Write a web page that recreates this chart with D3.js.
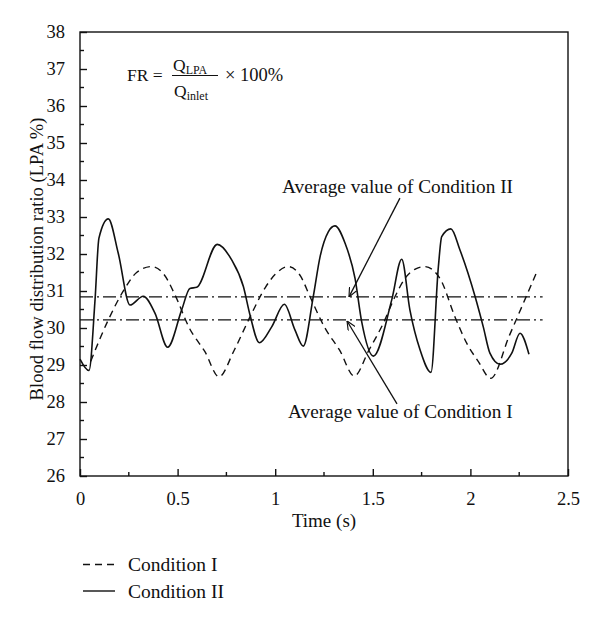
<!DOCTYPE html>
<html><head><meta charset="utf-8">
<script src="https://cdn.jsdelivr.net/npm/d3@7"></script>
<style>
body{margin:0;background:#fff;}
svg{display:block;}
text{font-family:"Liberation Serif","Times New Roman",serif;fill:#111;}
</style>
</head><body>
<svg id="c" width="600" height="624"></svg>
<script>
// ---- data ----
const xTickValues = [0, 0.5, 1, 1.5, 2, 2.5];
const xTickLabels = ["0", "0.5", "1", "1.5", "2", "2.5"];
const yTickValues = [26, 27, 28, 29, 30, 31, 32, 33, 34, 35, 36, 37, 38];

const cond1Time = [0.055, 0.145, 0.23, 0.29, 0.367, 0.43, 0.487, 0.56, 0.64, 0.712, 0.79, 0.871, 0.95, 1.0, 1.067, 1.13, 1.178, 1.255, 1.33, 1.405, 1.48, 1.554, 1.614, 1.665, 1.72, 1.767, 1.844, 1.921, 1.981, 2.04, 2.104, 2.2, 2.343];
const cond1Value = [29.1, 30.22, 31.07, 31.5, 31.66, 31.45, 30.89, 30.0, 29.36, 28.68, 29.4, 30.3, 31.1, 31.45, 31.66, 31.4, 30.85, 30.0, 29.4, 28.7, 29.4, 30.13, 30.85, 31.34, 31.6, 31.66, 31.34, 30.3, 29.59, 29.1, 28.64, 29.8, 31.55];

const cond2Time = [0, 0.046, 0.077, 0.097, 0.145, 0.196, 0.256, 0.324, 0.384, 0.449, 0.521, 0.563, 0.598, 0.703, 0.777, 0.837, 0.871, 0.919, 0.982, 1.047, 1.101, 1.144, 1.195, 1.23, 1.272, 1.306, 1.358, 1.409, 1.443, 1.503, 1.597, 1.648, 1.69, 1.742, 1.798, 1.836, 1.853, 1.9, 1.947, 2.024, 2.066, 2.1, 2.152, 2.212, 2.254, 2.3];
const cond2Value = [29.16, 28.85, 30.76, 32.43, 32.95, 32.02, 30.62, 30.86, 30.4, 29.48, 30.49, 31.07, 31.1, 32.26, 31.84, 31.12, 30.35, 29.6, 30.03, 30.64, 29.95, 29.51, 30.85, 31.93, 32.6, 32.76, 32.29, 31.34, 30.17, 29.24, 30.76, 31.86, 30.49, 29.41, 28.8, 31.66, 32.47, 32.68, 32.1, 30.85, 30.03, 29.32, 29.02, 29.32, 29.86, 29.29];

const avgCond1 = 30.22;
const avgCond2 = 30.84;
const avgExtent = [0, 2.37];

const seriesNames = ["Condition I", "Condition II"];
const annotationTexts = ["Average value of Condition II", "Average value of Condition I"];

// ---- layout ----
const svg = d3.select("#c");
const L = 80, R = 568, T = 32, B = 476;
const x = d3.scaleLinear().domain([0, 2.5]).range([L, R]);
const y = d3.scaleLinear().domain([26, 38]).range([B, T]);

const lineW = 1.4;

// frame
svg.append("rect").attr("x", L).attr("y", T).attr("width", R - L).attr("height", B - T)
  .attr("fill", "none").attr("stroke", "#111").attr("stroke-width", lineW);

// y axis (ticks inward)
const yMinor = d3.range(26.5, 38, 1);
const yAxis = d3.axisLeft(y).tickValues(yTickValues).tickSize(-7).tickPadding(15).tickFormat(d3.format("d"));
const gy = svg.append("g").attr("transform", `translate(${L},0)`).call(yAxis);
gy.select(".domain").remove();
gy.selectAll(".tick line").attr("stroke", "#111").attr("stroke-width", lineW);
gy.selectAll(".tick text").attr("font-size", 18.5).attr("font-family", "Liberation Serif").attr("fill", "#111");
svg.append("g").selectAll("line").data(yMinor).join("line")
  .attr("x1", L).attr("x2", L + 4).attr("y1", d => y(d)).attr("y2", d => y(d))
  .attr("stroke", "#111").attr("stroke-width", lineW);

// x axis (ticks inward)
const xMinor = [0.25, 0.75, 1.25, 1.75, 2.25];
const xAxis = d3.axisBottom(x).tickValues(xTickValues).tickSize(-7).tickPadding(16)
  .tickFormat((d, i) => xTickLabels[i]);
const gx = svg.append("g").attr("transform", `translate(0,${B})`).call(xAxis);
gx.select(".domain").remove();
gx.selectAll(".tick line").attr("stroke", "#111").attr("stroke-width", lineW);
gx.selectAll(".tick text").attr("font-size", 18.5).attr("font-family", "Liberation Serif").attr("fill", "#111");
svg.append("g").selectAll("line").data(xMinor).join("line")
  .attr("x1", d => x(d)).attr("x2", d => x(d)).attr("y1", B).attr("y2", B - 4)
  .attr("stroke", "#111").attr("stroke-width", lineW);

// axis titles
svg.append("text").attr("x", (L + R) / 2).attr("y", 527).attr("text-anchor", "middle")
  .attr("font-size", 19).text("Time (s)");
svg.append("text").attr("transform", `translate(43,${(T + B) / 2 + 5}) rotate(-90)`)
  .attr("text-anchor", "middle").attr("font-size", 18.6)
  .text("Blood flow distribution ratio (LPA %)");

// average lines
const avgDash = "13,4,2,4";
[avgCond2, avgCond1].forEach(v => {
  svg.append("line").attr("x1", x(avgExtent[0])).attr("x2", x(avgExtent[1]))
    .attr("y1", y(v)).attr("y2", y(v))
    .attr("stroke", "#111").attr("stroke-width", 1.3).attr("stroke-dasharray", avgDash);
});

// curves
const lineGen = d3.line().x(d => x(d[0])).y(d => y(d[1])).curve(d3.curveMonotoneX);
const c1 = cond1Time.map((t, i) => [t, cond1Value[i]]);
const c2 = cond2Time.map((t, i) => [t, cond2Value[i]]);
svg.append("path").attr("d", lineGen(c1)).attr("fill", "none").attr("stroke", "#111")
  .attr("stroke-width", 1.4).attr("stroke-dasharray", "7,5");
svg.append("path").attr("d", lineGen(c2)).attr("fill", "none").attr("stroke", "#111")
  .attr("stroke-width", 1.6);

// arrows
const defs = svg.append("defs");
defs.append("marker").attr("id", "arr").attr("viewBox", "0 0 10 10").attr("refX", 10).attr("refY", 5)
  .attr("markerWidth", 9).attr("markerHeight", 9).attr("markerUnits", "userSpaceOnUse")
  .attr("orient", "auto")
  .append("path").attr("d", "M0,0.5 L10,5 L0,9.5").attr("fill", "none").attr("stroke", "#111").attr("stroke-width", 1.3);

const arrows = [
  {from: [1.639, 33.51], to: [1.378, avgCond2]},
  {from: [1.624, 27.95], to: [1.368, avgCond1 - 0.03]}
];
arrows.forEach(a => {
  svg.append("line").attr("x1", x(a.from[0])).attr("y1", y(a.from[1]))
    .attr("x2", x(a.to[0])).attr("y2", y(a.to[1]))
    .attr("stroke", "#111").attr("stroke-width", 1.3).attr("marker-end", "url(#arr)");
});

svg.append("text").attr("x", x(1.035)).attr("y", y(33.65)).attr("font-size", 19.3).text(annotationTexts[0]);
svg.append("text").attr("x", x(1.066)).attr("y", y(27.57)).attr("font-size", 19.3).text(annotationTexts[1]);

// formula
const f = svg.append("g");
f.append("text").attr("x", 127).attr("y", 81).attr("font-size", 17.5).text("FR =");
const q1 = f.append("text").attr("x", 173).attr("y", 70.5).attr("font-size", 17.5);
q1.append("tspan").text("Q");
q1.append("tspan").attr("font-size", 12).attr("dy", 3).text("LPA");
f.append("line").attr("x1", 172).attr("x2", 218).attr("y1", 75.5).attr("y2", 75.5)
  .attr("stroke", "#111").attr("stroke-width", 1.1);
const q2 = f.append("text").attr("x", 174).attr("y", 96.5).attr("font-size", 17.5);
q2.append("tspan").text("Q");
q2.append("tspan").attr("font-size", 12).attr("dy", 3).text("inlet");
f.append("text").attr("x", 225).attr("y", 81).attr("font-size", 18.5).text("\u00d7 100%");

// legend
const leg = svg.append("g");
[["7,5", 564.5], [null, 591]].forEach((s, i) => {
  leg.append("line").attr("x1", 83).attr("x2", 115).attr("y1", s[1]).attr("y2", s[1])
    .attr("stroke", "#111").attr("stroke-width", 1.4).attr("stroke-dasharray", s[0]);
  leg.append("text").attr("x", 128).attr("y", s[1] + 6.5).attr("font-size", 19.5).text(seriesNames[i]);
});
</script>
</body></html>
